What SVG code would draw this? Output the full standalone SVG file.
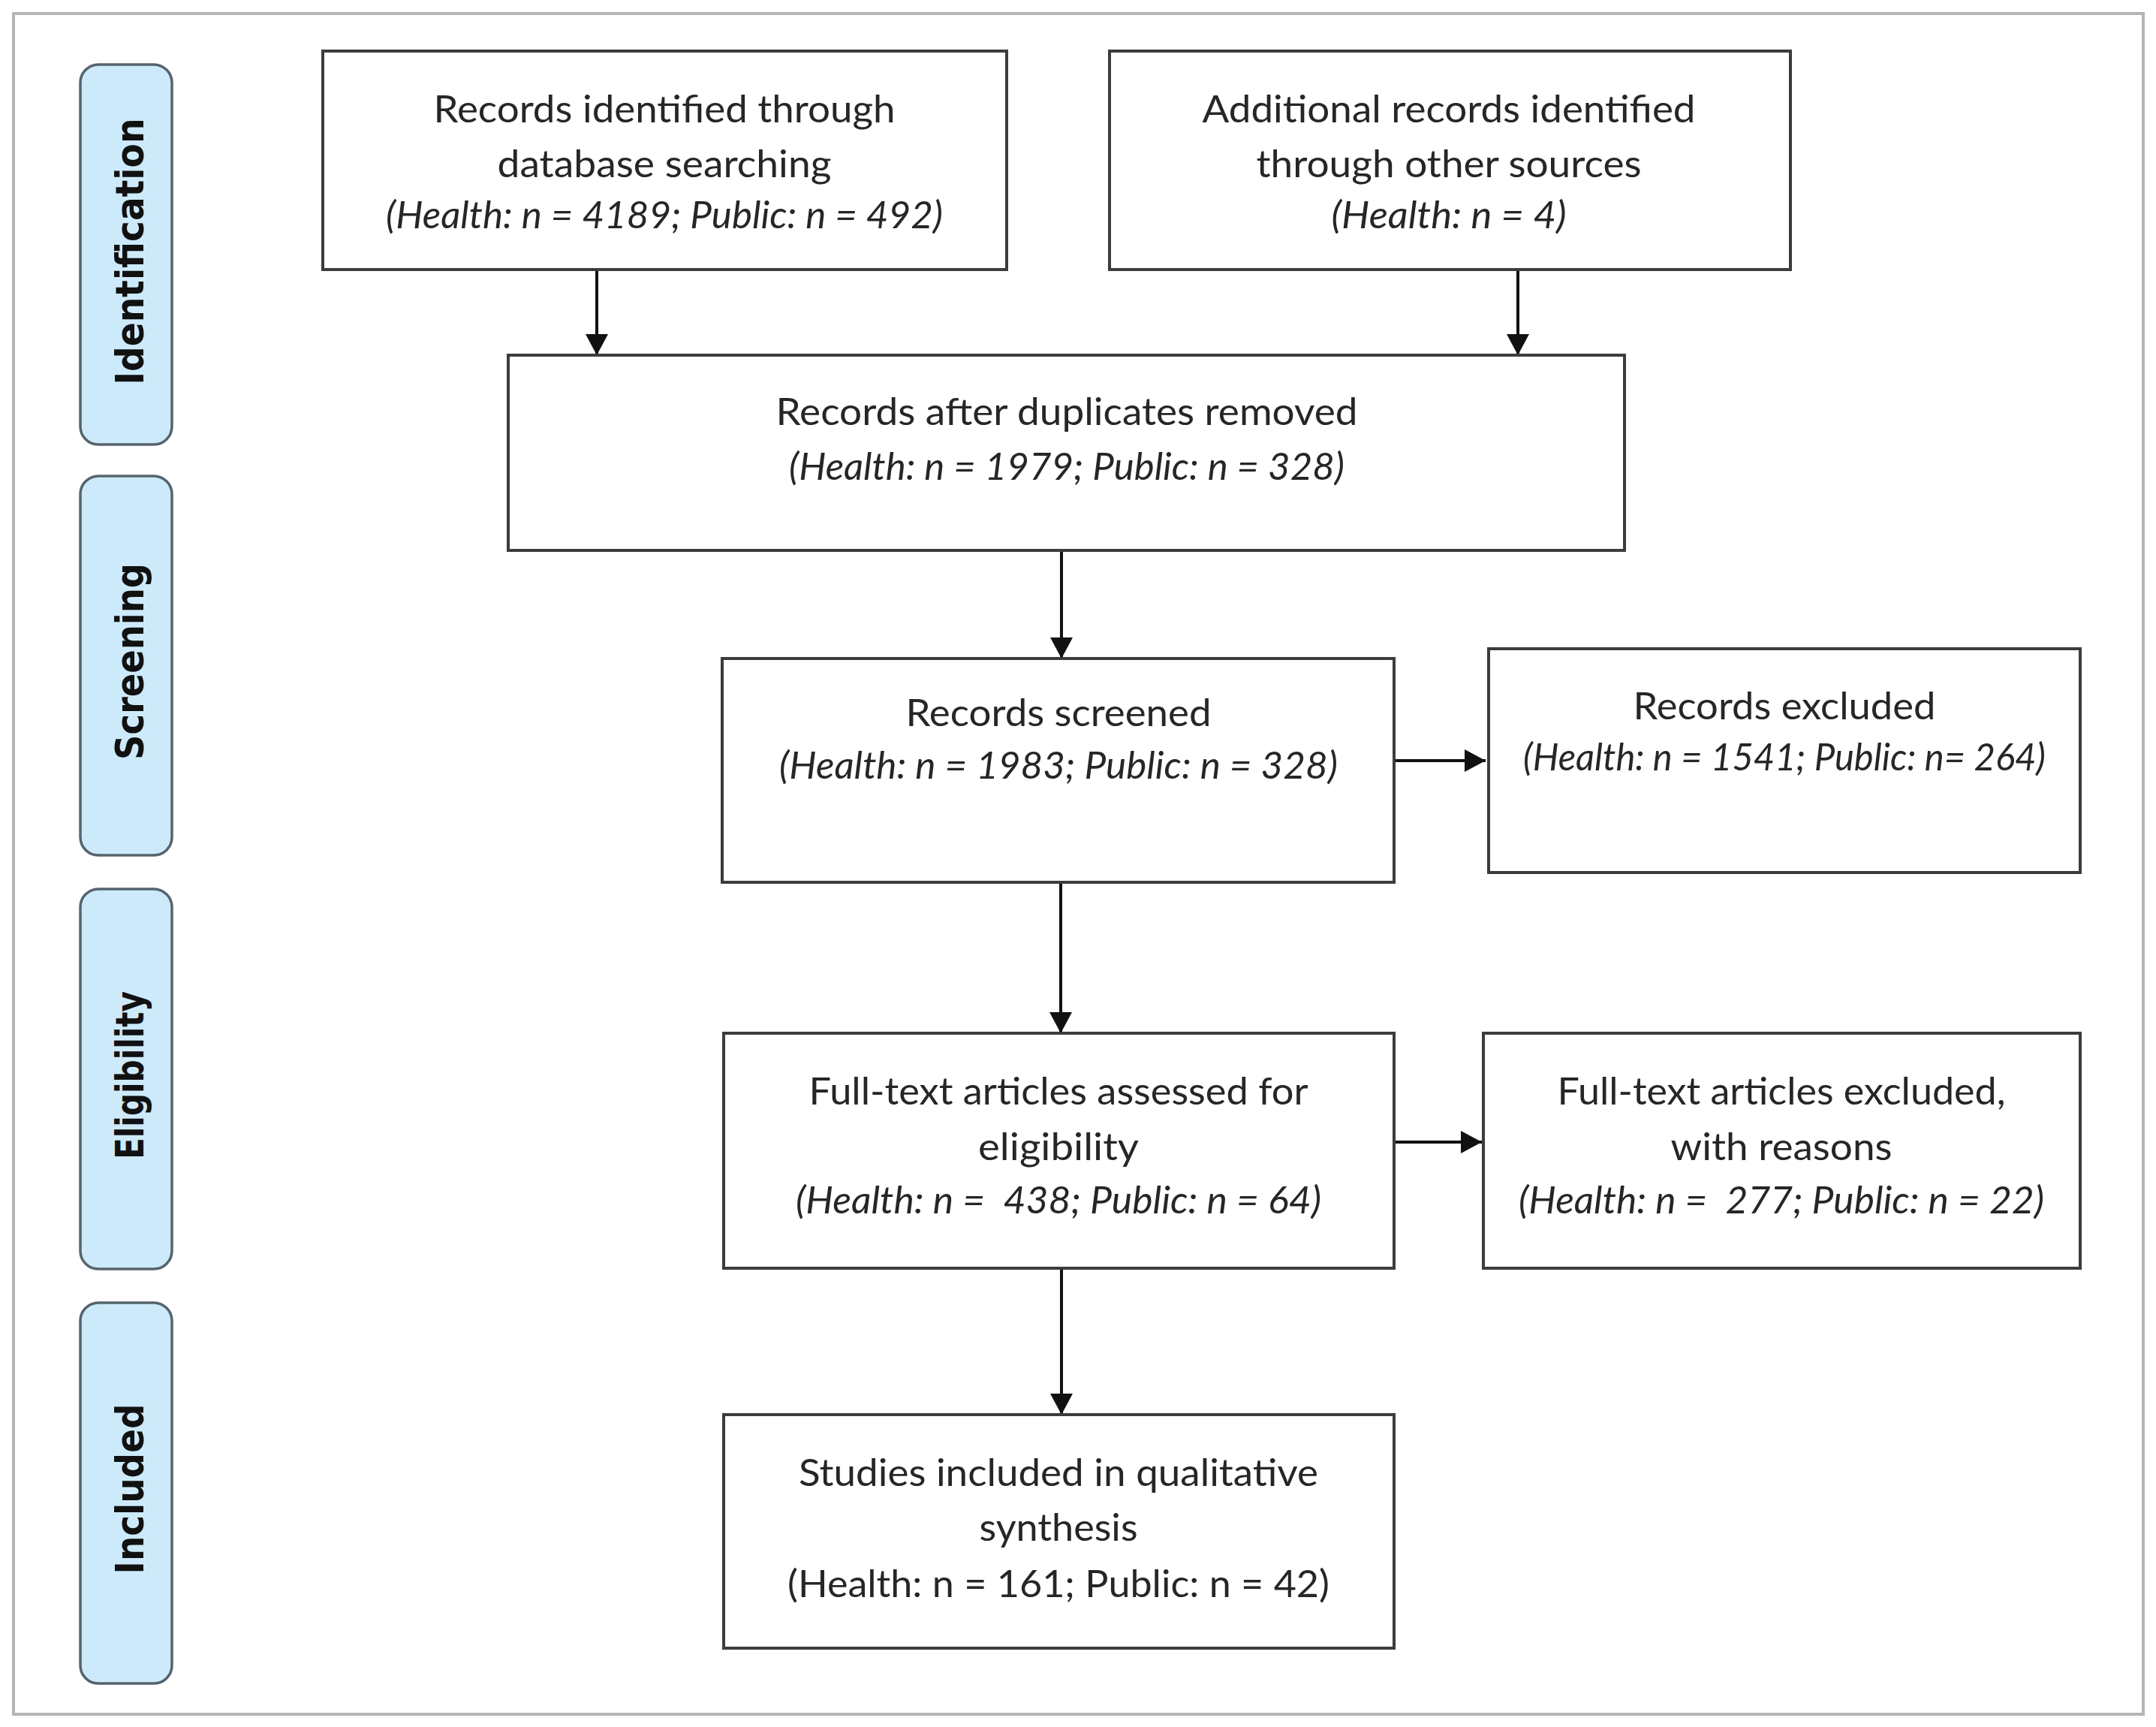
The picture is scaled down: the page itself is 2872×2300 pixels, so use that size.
<svg xmlns="http://www.w3.org/2000/svg" width="2872" height="2300" viewBox="0 0 2872 2300">
<defs>
<marker id="ah" markerUnits="userSpaceOnUse" markerWidth="30" markerHeight="30" refX="28" refY="15" orient="auto">
<path d="M0,0 L28,15 L0,30 z" fill="#111"/>
</marker>
<style>
.box{fill:#fff;stroke:#3c3c3c;stroke-width:4}
.phase{fill:#cdeafb;stroke:#55646c;stroke-width:3.5}
.pt{font-family:"DejaVu Sans",Verdana,sans-serif;font-weight:bold;font-size:51px;fill:#111;text-anchor:middle}
.t{font-family:Lato,"Liberation Sans",sans-serif;font-size:50px;fill:#262626;text-anchor:middle;white-space:pre}
.i{font-style:italic}
.c{fill:none;stroke:#111;stroke-width:4;marker-end:url(#ah)}
</style>
</defs>
<rect x="0" y="0" width="2872" height="2300" fill="#fff"/>
<rect x="18" y="18" width="2837" height="2265" fill="#fff" stroke="#b5b5b5" stroke-width="4"/>

<g id="phase-identification">
<rect class="phase" x="107" y="86" width="122" height="506" rx="24"/>
<text class="pt" x="191" y="335" transform="rotate(-90 191 335)" textLength="355" lengthAdjust="spacingAndGlyphs">Identification</text>
</g>
<g id="phase-screening">
<rect class="phase" x="107" y="634" width="122" height="505" rx="24"/>
<text class="pt" x="191" y="881" transform="rotate(-90 191 881)" textLength="262" lengthAdjust="spacingAndGlyphs">Screening</text>
</g>
<g id="phase-eligibility">
<rect class="phase" x="107" y="1184" width="122" height="506" rx="24"/>
<text class="pt" x="191" y="1432" transform="rotate(-90 191 1432)" textLength="224" lengthAdjust="spacingAndGlyphs">Eligibility</text>
</g>
<g id="phase-included">
<rect class="phase" x="107" y="1735" width="122" height="507" rx="24"/>
<text class="pt" x="191" y="1983" transform="rotate(-90 191 1983)" textLength="227" lengthAdjust="spacingAndGlyphs">Included</text>
</g>

<g id="connectors">
<line class="c" x1="795" y1="359" x2="795" y2="473"/>
<line class="c" x1="2022" y1="359" x2="2022" y2="473"/>
<line class="c" x1="1414" y1="733" x2="1414" y2="877"/>
<line class="c" x1="1413" y1="1175" x2="1413" y2="1376"/>
<line class="c" x1="1414" y1="1689" x2="1414" y2="1884"/>
<line class="c" x1="1857" y1="1013" x2="1979" y2="1013"/>
<line class="c" x1="1857" y1="1521" x2="1974" y2="1521"/>
</g>

<g id="n-db">
<rect class="box" x="430" y="68" width="911" height="291"/>
<text class="t" x="885" y="163" textLength="615" lengthAdjust="spacingAndGlyphs">Records identified through</text>
<text class="t" x="885" y="236" textLength="445" lengthAdjust="spacingAndGlyphs">database searching</text>
<text class="t i" x="885" y="304" textLength="742" lengthAdjust="spacingAndGlyphs">(Health: n = 4189; Public: n = 492)</text>
</g>
<g id="n-other">
<rect class="box" x="1478" y="68" width="907" height="291"/>
<text class="t" x="1930" y="163" textLength="657" lengthAdjust="spacingAndGlyphs">Additional records identified</text>
<text class="t" x="1930" y="236" textLength="513" lengthAdjust="spacingAndGlyphs">through other sources</text>
<text class="t i" x="1930" y="304" textLength="313" lengthAdjust="spacingAndGlyphs">(Health: n = 4)</text>
</g>
<g id="n-dedup">
<rect class="box" x="677" y="473" width="1487" height="260"/>
<text class="t" x="1421" y="566" textLength="775" lengthAdjust="spacingAndGlyphs">Records after duplicates removed</text>
<text class="t i" x="1421" y="639" textLength="740" lengthAdjust="spacingAndGlyphs">(Health: n = 1979; Public: n = 328)</text>
</g>
<g id="n-screened">
<rect class="box" x="962" y="877" width="895" height="298"/>
<text class="t" x="1410" y="967" textLength="407" lengthAdjust="spacingAndGlyphs">Records screened</text>
<text class="t i" x="1410" y="1037" textLength="744" lengthAdjust="spacingAndGlyphs">(Health: n = 1983; Public: n = 328)</text>
</g>
<g id="n-excluded">
<rect class="box" x="1983" y="864" width="788" height="298"/>
<text class="t" x="2377" y="958" textLength="403" lengthAdjust="spacingAndGlyphs">Records excluded</text>
<text class="t i" x="2377" y="1026" textLength="696" lengthAdjust="spacingAndGlyphs">(Health: n = 1541; Public: n= 264)</text>
</g>
<g id="n-fulltext">
<rect class="box" x="964" y="1376" width="893" height="313"/>
<text class="t" x="1410" y="1471" textLength="665" lengthAdjust="spacingAndGlyphs">Full-text articles assessed for</text>
<text class="t" x="1410" y="1545" textLength="214" lengthAdjust="spacingAndGlyphs">eligibility</text>
<text class="t i" x="1410" y="1616" textLength="700" lengthAdjust="spacingAndGlyphs">(Health: n =  438; Public: n = 64)</text>
</g>
<g id="n-fulltext-excluded">
<rect class="box" x="1976" y="1376" width="795" height="313"/>
<text class="t" x="2373" y="1471" textLength="597" lengthAdjust="spacingAndGlyphs">Full-text articles excluded,</text>
<text class="t" x="2373" y="1545" textLength="295" lengthAdjust="spacingAndGlyphs">with reasons</text>
<text class="t i" x="2373" y="1616" textLength="700" lengthAdjust="spacingAndGlyphs">(Health: n =  277; Public: n = 22)</text>
</g>
<g id="n-included">
<rect class="box" x="964" y="1884" width="893" height="311"/>
<text class="t" x="1410" y="1979" textLength="692" lengthAdjust="spacingAndGlyphs">Studies included in qualitative</text>
<text class="t" x="1410" y="2052" textLength="211" lengthAdjust="spacingAndGlyphs">synthesis</text>
<text class="t" x="1410" y="2127" textLength="722" lengthAdjust="spacingAndGlyphs">(Health: n = 161; Public: n = 42)</text>
</g>
</svg>
